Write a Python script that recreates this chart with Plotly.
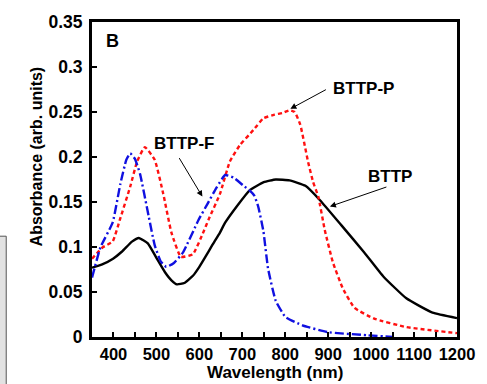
import plotly.graph_objects as go

# Absorption spectra (wavelength in nm, absorbance in arb. units)
wl_bttp = [350, 375, 399, 420, 443, 459, 480, 500, 520, 535, 548, 565, 585, 600, 614,
           630, 648, 660, 690, 717, 750, 778, 810, 847, 881, 931, 984, 1029, 1082, 1143, 1200]
abs_bttp = [0.077, 0.081, 0.087, 0.095, 0.106, 0.110, 0.104, 0.088, 0.072, 0.063, 0.0585, 0.060,
            0.068, 0.078, 0.089, 0.102, 0.116, 0.127, 0.147, 0.163, 0.172, 0.175, 0.174, 0.168,
            0.152, 0.124, 0.094, 0.067, 0.043, 0.027, 0.021]

wl_bttpf = [350, 370, 398, 416, 430, 439, 450, 462, 482, 496, 510, 523, 540, 562, 598, 619,
            640, 660, 680, 703, 717, 728, 737, 749, 760, 778, 801, 840, 899, 990, 1050]
abs_bttpf = [0.066, 0.100, 0.127, 0.170, 0.197, 0.204, 0.198, 0.181, 0.134, 0.102, 0.084, 0.078,
             0.082, 0.094, 0.130, 0.148, 0.166, 0.180, 0.177, 0.168, 0.163, 0.157, 0.145, 0.118,
             0.076, 0.040, 0.022, 0.013, 0.0054, 0.002, 0.0]

wl_bttpp = [350, 375, 398, 416, 439, 455, 473, 496, 516, 535, 557, 585, 608, 621, 648, 671,
            694, 726, 749, 775, 794, 810, 822, 835, 853, 865, 877, 892, 911, 934, 961, 1006, 1082, 1200]
abs_bttpp = [0.087, 0.0997, 0.106, 0.132, 0.167, 0.195, 0.211, 0.197, 0.159, 0.116, 0.089, 0.092,
             0.115, 0.130, 0.159, 0.195, 0.213, 0.230, 0.243, 0.247, 0.249, 0.252, 0.250, 0.236,
             0.195, 0.172, 0.156, 0.119, 0.083, 0.054, 0.0325, 0.0206, 0.011, 0.0043]

x_ticks = [400, 500, 600, 700, 800, 900, 1000, 1100, 1200]
y_ticks = [0, 0.05, 0.1, 0.15, 0.2, 0.25, 0.3, 0.35]
y_tick_text = ["0", "0.05", "0.1", "0.15", "0.2", "0.25", "0.3", "0.35"]

FONT = "Liberation Sans, Arial, sans-serif"

fig = go.Figure()
fig.add_trace(go.Scatter(x=wl_bttp, y=abs_bttp, mode="lines", name="BTTP",
                         line=dict(color="black", width=2.4, shape="spline", smoothing=0.4)))
fig.add_trace(go.Scatter(x=wl_bttpp, y=abs_bttpp, mode="lines", name="BTTP-P",
                         line=dict(color="#ff1010", width=2.4, dash="4px,3px", shape="spline", smoothing=0.4)))
fig.add_trace(go.Scatter(x=wl_bttpf, y=abs_bttpf, mode="lines", name="BTTP-F",
                         line=dict(color="#1010e0", width=2.4, dash="9px,3px,2px,3px", shape="spline", smoothing=0.4)))

axis_common = dict(showline=True, linecolor="black", linewidth=3, mirror=True,
                   ticks="inside", ticklen=5, tickwidth=1.5, tickcolor="black",
                   showgrid=False, zeroline=False)

fig.update_xaxes(range=[350, 1200], tickvals=x_ticks,
                 tickfont=dict(family=FONT, size=16.5, color="black", weight="bold"),
                 minor=dict(ticks="inside", dtick=50, tick0=350, ticklen=5, tickwidth=1.5, tickcolor="black"),
                 ticklabelstandoff=0, **axis_common)
fig.update_yaxes(range=[0, 0.35], tickvals=y_ticks, ticktext=y_tick_text,
                 tickfont=dict(family=FONT, size=17.5, color="black", weight="bold"),
                 ticklabelstandoff=3, **axis_common)

annotations = []
text_font = dict(family=FONT, size=17, color="black", weight="bold")
# axis titles
annotations.append(dict(text="Wavelength (nm)", xref="paper", yref="paper", x=0.5, y=-0.113,
                        xanchor="center", yanchor="middle", showarrow=False, font=text_font))
annotations.append(dict(text="Absorbance (arb. units)", xref="paper", yref="paper", x=-0.151, y=0.573,
                        xanchor="center", yanchor="middle", textangle=-90, showarrow=False,
                        font=dict(family=FONT, size=16, color="black", weight="bold")))
# panel letter
annotations.append(dict(text="B", x=398, y=0.329, showarrow=False,
                        font=dict(family=FONT, size=18, color="black", weight="bold")))
# curve labels
for label, tx, ty in [("BTTP-F", 564, 0.2145), ("BTTP-P", 983, 0.276), ("BTTP", 1045, 0.178)]:
    annotations.append(dict(text=label, x=tx, y=ty, showarrow=False, font=text_font))
# pointer arrows
for px, py, ax, ay in [(607, 0.156, -24, -40), (812, 0.2535, 37, -20), (904, 0.145, 58, -20)]:
    annotations.append(dict(text="", x=px, y=py, ax=ax, ay=ay, showarrow=True,
                            arrowhead=2, arrowsize=1.2, arrowwidth=1, arrowcolor="black"))

fig.update_layout(
    width=487, height=384,
    margin=dict(l=92, r=22, t=14, b=47),
    paper_bgcolor="white", plot_bgcolor="white",
    showlegend=False,
    annotations=annotations,
    shapes=[dict(type="rect", xref="paper", yref="paper", x0=-0.26, x1=-0.235, y0=-0.16, y1=0.32,
                 fillcolor="#e2e2e2", line=dict(color="#555555", width=1), layer="below")],
)

fig.write_html("out.html")
